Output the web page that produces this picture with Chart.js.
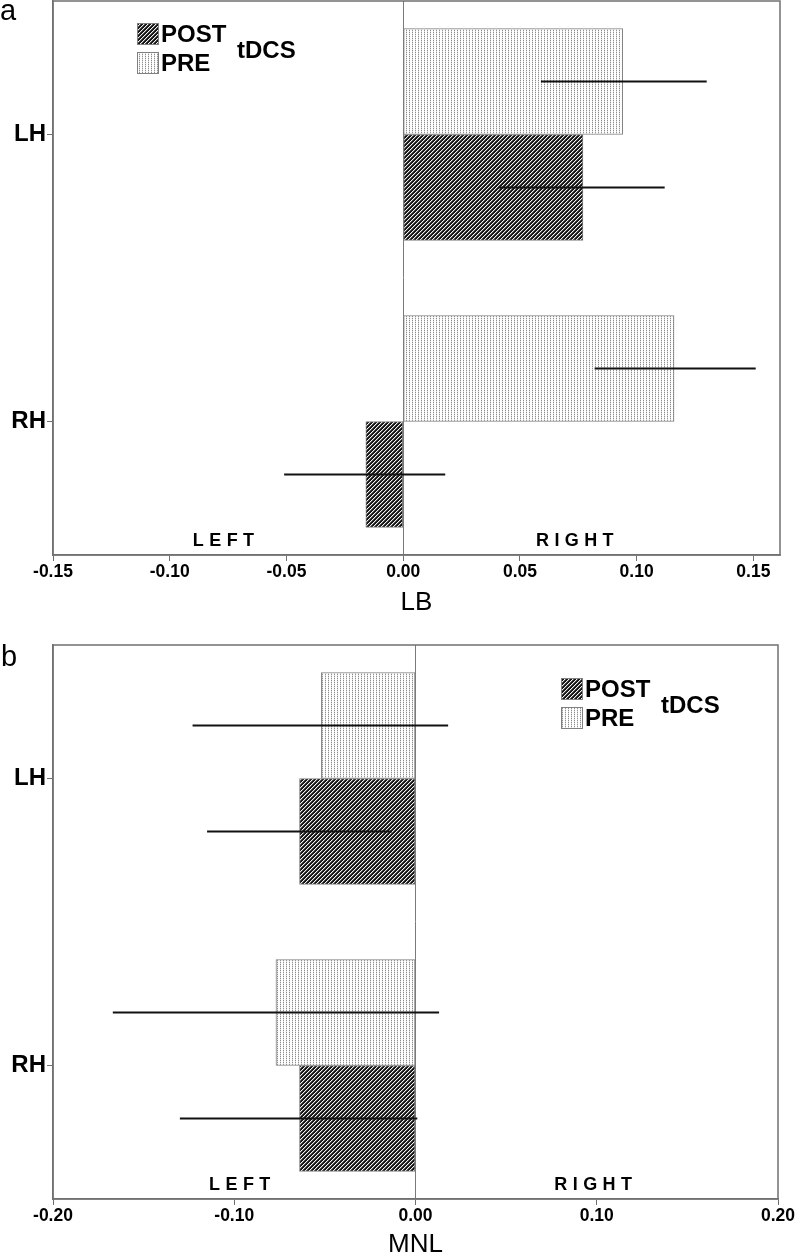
<!DOCTYPE html>
<html>
<head>
<meta charset="utf-8">
<script src="https://cdn.jsdelivr.net/npm/chart.js@4.4.1/dist/chart.umd.min.js"></script>
<style>
  body { margin: 0; background: #fff; width: 797px; height: 1258px; position: relative; overflow: hidden;
         font-family: "Liberation Sans", Arial, sans-serif; }
  .box { position: absolute; left: 0; width: 797px; }
  #boxA { top: 0; height: 632px; }
  #boxB { top: 632px; height: 626px; }
  .panel { position: absolute; font-size: 29px; line-height: 1; color: #000; }
</style>
</head>
<body>
<div class="box" id="boxA"><canvas id="chartA"></canvas></div>
<div class="box" id="boxB"><canvas id="chartB"></canvas></div>
<div class="panel" style="left:0px;top:-4px">a</div>
<div class="panel" style="left:1px;top:642px">b</div>

<script>
const FONT = '"Liberation Sans", Arial, sans-serif';

// categories (hemisphere) and series
const categories = ['LH', 'RH'];
const seriesNames = ['PRE', 'POST'];

// panel a: LB
const lbPre = [0.094, 0.116];
const lbPreLo = [0.059, 0.082];
const lbPreHi = [0.130, 0.151];
const lbPost = [0.077, -0.016];
const lbPostLo = [0.041, -0.051];
const lbPostHi = [0.112, 0.018];
const lbTicks = [-0.15, -0.10, -0.05, 0, 0.05, 0.10, 0.15];

// panel b: MNL
const mnlPre = [-0.052, -0.077];
const mnlPreLo = [-0.123, -0.167];
const mnlPreHi = [0.018, 0.013];
const mnlPost = [-0.064, -0.064];
const mnlPostLo = [-0.115, -0.130];
const mnlPostHi = [-0.013, 0.001];
const mnlTicks = [-0.20, -0.10, 0, 0.10, 0.20];

// fill patterns
function hatchPattern(ctx) {
  const c = document.createElement('canvas');
  c.width = 4; c.height = 4;
  const g = c.getContext('2d');
  g.fillStyle = '#151515';
  g.fillRect(0, 0, 4, 4);
  for (let i = 0; i < 4; i++) {
    g.fillStyle = '#f2f2f2';
    g.fillRect(3 - i, i, 1, 1);
    g.fillStyle = '#5a5a5a';
    g.fillRect((4 - i) % 4, i, 1, 1);
  }
  return ctx.createPattern(c, 'repeat');
}

function dotPattern(ctx) {
  const c = document.createElement('canvas');
  c.width = 3; c.height = 2;
  const g = c.getContext('2d');
  g.fillStyle = '#fff';
  g.fillRect(0, 0, 3, 2);
  g.fillStyle = '#8e8e8e';
  g.fillRect(1, 0, 1, 1);
  g.fillStyle = '#dcdcdc';
  g.fillRect(1, 1, 1, 1);
  return ctx.createPattern(c, 'repeat');
}

// plot frame + LEFT / RIGHT labels
const framePlugin = {
  id: 'frame',
  afterDraw(chart, args, opts) {
    const { ctx, chartArea: a } = chart;
    const xs = chart.scales.x;
    ctx.save();
    ctx.strokeStyle = '#707070';
    ctx.lineWidth = 1.5;
    ctx.strokeRect(a.left, a.top, a.right - a.left, a.bottom - a.top);

    ctx.fillStyle = '#000';
    ctx.font = 'bold 18px ' + FONT;
    ctx.textBaseline = 'middle';
    ctx.textAlign = 'left';
    opts.sides.forEach(s => {
      const letters = s.text.split('');
      const gap = 5.4;
      const w = letters.reduce((t, l) => t + ctx.measureText(l).width, 0) + gap * (letters.length - 1);
      let x = xs.getPixelForValue(s.at) - w / 2;
      letters.forEach(l => {
        ctx.fillText(l, x, a.bottom - opts.sideOffset);
        x += ctx.measureText(l).width + gap;
      });
    });
    ctx.restore();
  }
};

// horizontal error lines (no caps)
const errorPlugin = {
  id: 'errorLines',
  afterDatasetsDraw(chart) {
    const ctx = chart.ctx, xs = chart.scales.x;
    ctx.save();
    ctx.strokeStyle = '#111';
    ctx.lineWidth = 2;
    chart.data.datasets.forEach((ds, di) => {
      chart.getDatasetMeta(di).data.forEach((bar, i) => {
        ctx.beginPath();
        ctx.moveTo(xs.getPixelForValue(ds.lo[i]), bar.y);
        ctx.lineTo(xs.getPixelForValue(ds.hi[i]), bar.y);
        ctx.stroke();
      });
    });
    ctx.restore();
  }
};

// legend: POST / PRE swatches with "tDCS" title on the right
const legendPlugin = {
  id: 'tdcsLegend',
  afterDraw(chart, args, opts) {
    const ctx = chart.ctx;
    const order = [1, 0]; // POST first, then PRE
    ctx.save();
    ctx.font = 'bold 24px ' + FONT;
    ctx.textBaseline = 'middle';
    ctx.fillStyle = '#000';
    order.forEach((di, row) => {
      const ds = chart.data.datasets[di];
      const y = opts.y + row * 29;
      ctx.fillStyle = ds.backgroundColor;
      ctx.fillRect(opts.x, y, 22, 22);
      ctx.strokeStyle = '#808080';
      ctx.lineWidth = 1;
      ctx.strokeRect(opts.x + 0.5, y + 0.5, 21, 21);
      ctx.fillStyle = '#000';
      ctx.fillText(ds.label, opts.x + 24, y + 12);
    });
    ctx.fillText('tDCS', opts.x + 100, opts.y + 28);
    ctx.restore();
  }
};

function buildChart(id, o) {
  const canvas = document.getElementById(id);
  const ctx = canvas.getContext('2d');
  const datasets = [
    {
      label: seriesNames[0],
      data: o.pre.map((v, i) => ({ x: v, y: i })),
      lo: o.preLo, hi: o.preHi,
      backgroundColor: dotPattern(ctx)
    },
    {
      label: seriesNames[1],
      data: o.post.map((v, i) => ({ x: v, y: i })),
      lo: o.postLo, hi: o.postHi,
      backgroundColor: hatchPattern(ctx)
    }
  ].map(d => Object.assign(d, {
    borderColor: '#808080', borderWidth: 1, borderSkipped: false, barThickness: 106
  }));

  return new Chart(ctx, {
    type: 'bar',
    data: { datasets },
    options: {
      indexAxis: 'y',
      responsive: true,
      maintainAspectRatio: false,
      animation: false,
      layout: { padding: { top: o.padTop, right: o.padRight, left: 0, bottom: 0 } },
      plugins: {
        legend: { display: false },
        tooltip: { enabled: false },
        tdcsLegend: o.legend,
        frame: { sides: o.sides, sideOffset: 13.5 }
      },
      scales: {
        x: {
          type: 'linear',
          min: o.min, max: o.max,
          afterBuildTicks: s => { s.ticks = o.ticks.map(v => ({ value: v })); },
          afterFit: s => { s.height = o.xHeight; },
          grid: {
            drawOnChartArea: true,
            color: c => (c.tick && c.tick.value === 0) ? '#7a7a7a' : 'rgba(0,0,0,0)',
            tickColor: '#707070',
            tickLength: 6,
            lineWidth: 1
          },
          border: { display: true, color: '#707070', width: 1.5 },
          ticks: {
            font: { family: FONT, size: 17.5, weight: 'bold' },
            color: '#000', padding: 1, maxRotation: 0, autoSkip: false,
            callback: v => v.toFixed(2)
          },
          title: {
            display: true, text: o.title, color: '#000',
            font: { family: FONT, size: 26, lineHeight: 1 },
            padding: { top: 0, bottom: o.titlePad }
          }
        },
        y: {
          type: 'linear',
          reverse: true,
          offset: false,
          min: -0.465, max: 1.465,
          afterBuildTicks: s => { s.ticks = categories.map((c, i) => ({ value: i })); },
          afterFit: s => { s.width = 53; s.paddingTop = 0; s.paddingBottom = 0; },
          grid: { offset: false, drawOnChartArea: false, tickLength: 6, color: '#707070' },
          border: { display: true, color: '#707070', width: 1.5 },
          ticks: {
            font: { family: FONT, size: 24, weight: 'bold' },
            color: '#000', padding: 1,
            callback: v => categories[v]
          }
        }
      }
    },
    plugins: [errorPlugin, framePlugin, legendPlugin]
  });
}

buildChart('chartA', {
  pre: lbPre, preLo: lbPreLo, preHi: lbPreHi,
  post: lbPost, postLo: lbPostLo, postHi: lbPostHi,
  ticks: lbTicks, min: -0.15, max: 0.1614,
  title: 'LB', titlePad: 16, xHeight: 77,
  padTop: 1, padRight: 17,
  legend: { x: 137, y: 23 },
  sides: [{ text: 'LEFT', at: -0.077 }, { text: 'RIGHT', at: 0.0735 }]
});

buildChart('chartB', {
  pre: mnlPre, preLo: mnlPreLo, preHi: mnlPreHi,
  post: mnlPost, postLo: mnlPostLo, postHi: mnlPostHi,
  ticks: mnlTicks, min: -0.20, max: 0.20,
  title: 'MNL', titlePad: 0, xHeight: 59,
  padTop: 13, padRight: 19,
  legend: { x: 561, y: 46 },
  sides: [{ text: 'LEFT', at: -0.097 }, { text: 'RIGHT', at: 0.098 }]
});
</script>
</body>
</html>
